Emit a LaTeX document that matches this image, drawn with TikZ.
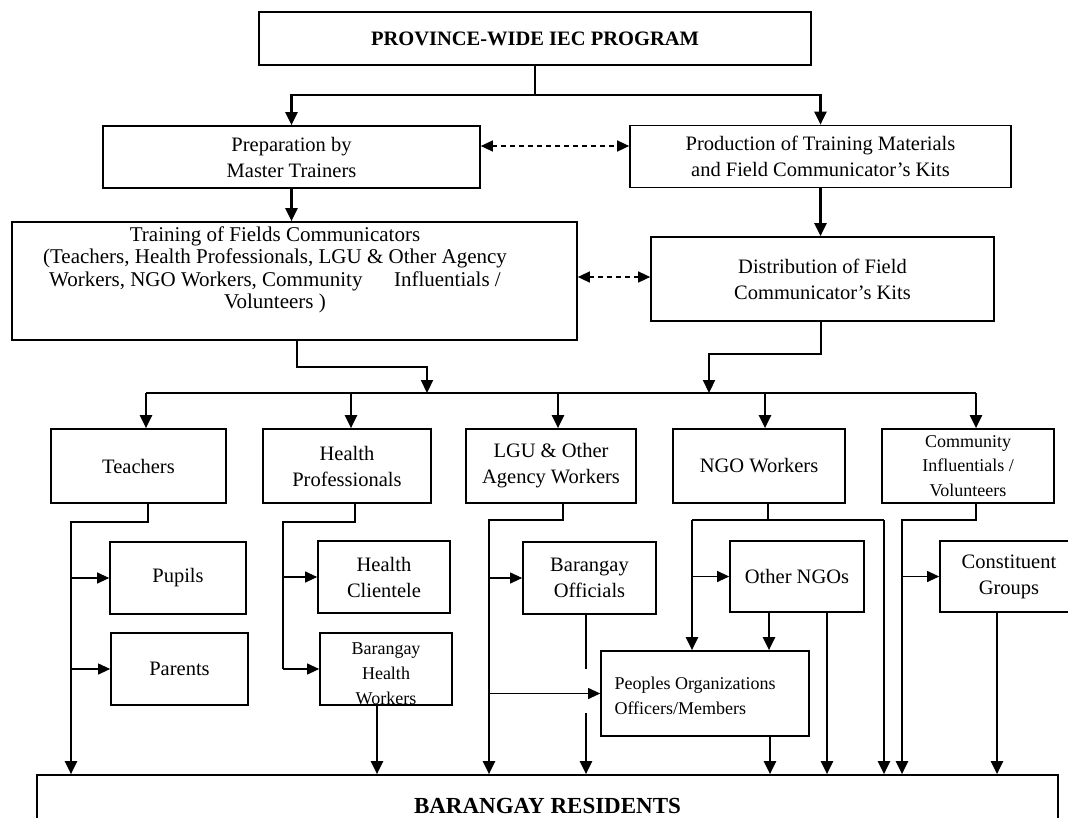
\documentclass[tikz,border=0pt]{standalone}
\usepackage{fontspec}
\setmainfont{Liberation Serif}
\usetikzlibrary{arrows.meta,calc}
\begin{document}
\begin{tikzpicture}[x=1pt,y=-1pt,
  nf/.style={font=\fontsize{20.5}{26}\selectfont},
  sf/.style={font=\fontsize{18}{24.5}\selectfont},
  box/.style={draw=black, line width=1.7pt, rectangle, inner sep=1pt, align=center, nf},
  ln/.style={line width=2.2pt},
  arr/.style={line width=2.2pt, -{Triangle[length=13pt,width=12pt]}},
  tarr/.style={line width=1.1pt, -{Triangle[length=12pt,width=11pt]}},
  darr/.style={line width=1.5pt, dash pattern=on 5pt off 4pt, {Triangle[length=12pt,width=11pt]}-{Triangle[length=12pt,width=11pt]}}
]
\useasboundingbox (0,0) rectangle (1068,817);
\clip (0,0) rectangle (1068,817);
\fill[white] (0,0) rectangle (1068,817);

% ---------- nodes ----------
\node[box, minimum width=552, minimum height=53] (top) at (535,38.5) {\bfseries PROVINCE-WIDE IEC PROGRAM};
\node[box, minimum width=377, minimum height=62] (prep) at (291.5,157) {Preparation by\\Master Trainers};
\node[box, minimum width=381, minimum height=62] (prod) at (820.5,156.5) {Production of Training Materials\\and Field Communicator's Kits};
\node[box, minimum width=565, minimum height=118] (train) at (294.5,281) {};
\node[align=center, font=\fontsize{21}{22.5}\selectfont] (traint) at (275,270) {Training of Fields Communicators\\(Teachers, Health Professionals, LGU \& Other Agency\\Workers, NGO Workers, Community\hspace{1.5em}Influentials /\\Volunteers )};
\node[box, minimum width=343, minimum height=84] (dist) at (822.5,279) {Distribution of Field\\Communicator's Kits};

\node[box, minimum width=175, minimum height=74] (teach) at (138.5,466) {Teachers};
\node[box, minimum width=168, minimum height=74] (health) at (347,466) {Health\\Professionals};
\node[box, minimum width=170, minimum height=74] (lgu) at (551,466) {LGU \& Other\\Agency Workers};
\node[box, minimum width=172, minimum height=74] (ngo) at (759,466) {NGO Workers};
\node[box, sf, minimum width=172, minimum height=74] (comm) at (968,466) {Community\\Influentials /\\Volunteers};

\node[box, minimum width=136, minimum height=72] (pupils) at (178,578) {Pupils};
\node[box, minimum width=137, minimum height=72] (parents) at (179.5,669) {Parents};
\node[box, minimum width=132, minimum height=72] (hc) at (384,577) {Health\\Clientele};
\node[box, minimum width=132, minimum height=72] (bhw) at (386,669) {};
\node[align=center, font=\fontsize{18}{25}\selectfont] (bhwt) at (386,674) {Barangay\\Health\\Workers};
\node[box, minimum width=133, minimum height=72] (bo) at (589.5,578) {Barangay\\Officials};
\node[box, minimum width=134, minimum height=71] (ongo) at (797,576.5) {Other NGOs};
\node[box, minimum width=138, minimum height=71] (cg) at (1009,576.5) {Constituent\\Groups};
\node[box, minimum width=208, minimum height=85] (po) at (705,693.5) {};
\node[sf, align=left, anchor=west] (pot) at (611,696) {Peoples Organizations\\Officers/Members};

\node[box, minimum width=1021, minimum height=62] (br) at (547.5,806) {\fontsize{23}{26}\selectfont\bfseries BARANGAY RESIDENTS};

% ---------- top level ----------
\coordinate (tj) at (535,95);
\draw[ln] (top.south) -- (tj);
\draw[arr] (tj) -| (prep.north);
\draw[arr] (tj) -| (prod.north);
\draw[darr] ([yshift=11pt]prep.east) -- ([yshift=11pt]prep.east -| prod.west);
\draw[arr] (prep.south) -- (prep.south |- train.north);
\draw[arr] (prod.south) -- (prod.south |- dist.north);
\draw[darr] ([yshift=4pt]train.east) -- ([yshift=4pt]train.east -| dist.west);

% ---------- bus ----------
\coordinate (j1) at (427,367);
\coordinate (j2) at (709,354);
\coordinate (b1) at (146,393);
\coordinate (b2) at (351,393);
\coordinate (b3) at (558,393);
\coordinate (b4) at (765,393);
\coordinate (b5) at (976,393);
\draw[arr] ([xshift=2.5pt]train.south) |- (j1) -- (j1 |- b1);
\draw[arr] ([xshift=-1.5pt]dist.south) |- (j2) -- (j2 |- b1);
\draw[ln] (b1) -- (b5);
\draw[arr] (b1) -- (b1 |- teach.north);
\draw[arr] (b2) -- (b2 |- health.north);
\draw[arr] (b3) -- (b3 |- lgu.north);
\draw[arr] (b4) -- (b4 |- ngo.north);
\draw[arr] (b5) -- (b5 |- comm.north);

% ---------- teachers ----------
\coordinate (tv) at (71,522);
\draw[arr] ([xshift=9.5pt]teach.south) |- (tv) -- (tv |- br.north);
\draw[tarr] (tv |- pupils.west) -- (pupils.west);
\draw[tarr] (tv |- parents.west) -- (parents.west);

% ---------- health ----------
\coordinate (hv) at (283,522);
\draw[ln] ([xshift=8pt]health.south) |- (hv) -- (hv |- bhw.west);
\draw[tarr] (hv |- hc.west) -- (hc.west);
\draw[tarr] (hv |- bhw.west) -- (bhw.west);
\coordinate (bhwo) at ($(bhw.south)+(-9,0)$);
\draw[arr] (bhwo) -- (bhwo |- br.north);

% ---------- LGU ----------
\coordinate (lv) at (489,520);
\draw[arr] ([xshift=12pt]lgu.south) |- (lv) -- (lv |- br.north);
\draw[tarr] (lv |- bo.west) -- (bo.west);
\draw[tarr] (lv |- po.west) -- (po.west);
\coordinate (boo) at ($(bo.south)+(-3.5,0)$);
\coordinate (bog1) at (586,669);
\coordinate (bog2) at (586,713);
\draw[ln] (boo) -- (bog1);
\draw[arr] (bog2) -- (bog2 |- br.north);

% ---------- NGO ----------
\coordinate (nm) at (768,520);
\coordinate (nl) at (692,520);
\coordinate (nr) at (884,520);
\draw[ln] ([xshift=9pt]ngo.south) -- (nm);
\draw[ln] (nl) -- (nr);
\draw[arr] (nl) -- (nl |- po.north);
\draw[arr] (nr) -- (nr |- br.north);
\draw[tarr] (nl |- ongo.west) -- (ongo.west);
\coordinate (ongo1) at ($(ongo.south)+(-28,0)$);
\coordinate (ongo2) at ($(ongo.south)+(30,0)$);
\draw[arr] (ongo1) -- (ongo1 |- po.north);
\draw[arr] (ongo2) -- (ongo2 |- br.north);
\coordinate (poo) at ($(po.south)+(65,0)$);
\draw[arr] (poo) -- (poo |- br.north);

% ---------- community ----------
\coordinate (cv) at (902,520);
\draw[arr] ([xshift=8pt]comm.south) |- (cv) -- (cv |- br.north);
\draw[tarr] (cv |- cg.west) -- (cg.west);
\coordinate (cgo) at ($(cg.south)+(-12,0)$);
\draw[arr] (cgo) -- (cgo |- br.north);
\end{tikzpicture}
\end{document}
